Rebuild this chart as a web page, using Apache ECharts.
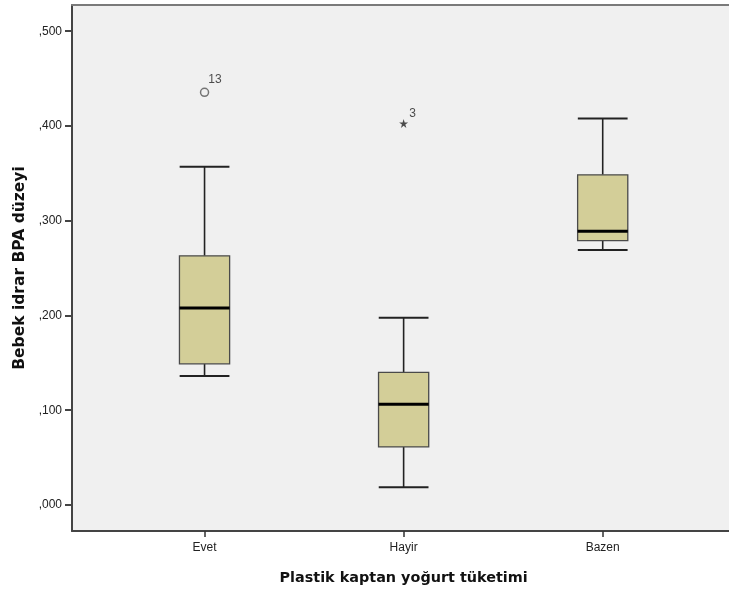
<!DOCTYPE html>
<html>
<head>
<meta charset="utf-8">
<script src="https://cdn.jsdelivr.net/npm/echarts@6/dist/echarts.min.js"></script>
<style>html,body{margin:0;padding:0;background:#fff}#c{width:729px;height:594px}</style>
</head>
<body>
<div id="c"></div>
<script>
var categories = ['Evet', 'Hayir', 'Bazen'];
var whiskerLow = [0.136, 0.0187, 0.269];
var q1 = [0.149, 0.0612, 0.279];
var median = [0.208, 0.1063, 0.289];
var q3 = [0.263, 0.140, 0.3485];
var whiskerHigh = [0.357, 0.1975, 0.408];
var outlierCats = ['Evet'];
var outlierValues = [0.4355];
var outlierLabels = ['13'];
var extremeCats = ['Hayir'];
var extremeValues = [0.4027];
var extremeLabels = ['3'];
var yTicks = [0, 0.1, 0.2, 0.3, 0.4, 0.5];
var yMin = -0.0275, yMax = 0.5277;

var boxData = categories.map(function (c, i) {
  return [i, whiskerLow[i], q1[i], median[i], q3[i], whiskerHigh[i]];
});

var starPath = 'path://M50,0 L61,35 L98,35 L68,57 L79,91 L50,70 L21,91 L32,57 L2,35 L39,35 Z';

function fmt(v) { return v.toFixed(3).replace(/^-?0\./, ','); }

var chart = echarts.init(document.getElementById('c'), null, {renderer: 'canvas'});
chart.setOption({
  animation: false,
  backgroundColor: '#ffffff',
  grid: [
    {left: 72, right: -10, top: 5, bottom: 63, show: true, backgroundColor: '#f0f0f0', borderWidth: 0},
    {left: 105, right: 26.75, top: 5, bottom: 63}
  ],
  xAxis: [
    {gridIndex: 0, type: 'value', min: 0, max: 1, position: 'bottom',
      axisLine: {show: true, onZero: false, lineStyle: {color: '#444', width: 2}},
      axisTick: {show: false}, axisLabel: {show: false}, splitLine: {show: false}},
    {gridIndex: 0, type: 'value', min: 0, max: 1, position: 'top',
      axisLine: {show: true, onZero: false, lineStyle: {color: '#7a7a7a', width: 2}},
      axisTick: {show: false}, axisLabel: {show: false}, splitLine: {show: false}},
    {gridIndex: 1, type: 'category', data: categories, boundaryGap: true, position: 'bottom',
      axisLine: {show: false, onZero: false},
      axisTick: {show: true, alignWithLabel: true, length: 6, lineStyle: {color: '#333', width: 1.5}},
      axisLabel: {margin: 11, color: '#222', fontSize: 12, fontFamily: 'Liberation Sans, Arial, sans-serif'},
      name: 'Plastik kaptan yoğurt tüketimi', nameLocation: 'middle', nameGap: 40,
      nameTextStyle: {fontWeight: 'bold', fontSize: 14.4, color: '#111', fontFamily: 'DejaVu Sans, sans-serif'},
      splitLine: {show: false}}
  ],
  yAxis: [
    {gridIndex: 0, type: 'value', min: yMin, max: yMax,
      axisLine: {show: true, onZero: false, lineStyle: {color: '#444', width: 2}},
      axisTick: {show: true, length: 7, customValues: yTicks, lineStyle: {color: '#444', width: 2}},
      axisLabel: {customValues: yTicks, formatter: fmt, margin: 10, color: '#222', fontSize: 12, fontFamily: 'Liberation Sans, Arial, sans-serif'},
      splitLine: {show: false},
      name: 'Bebek idrar BPA düzeyi', nameLocation: 'middle', nameGap: 44,
      nameTextStyle: {fontWeight: 'bold', fontSize: 15.5, color: '#111', fontFamily: 'DejaVu Sans, sans-serif'}},
    {gridIndex: 1, type: 'value', min: yMin, max: yMax, show: false, splitLine: {show: false}}
  ],
  series: [
    {
      type: 'custom', xAxisIndex: 2, yAxisIndex: 1,
      data: boxData,
      encode: {x: 0, y: [1, 2, 3, 4, 5]},
      renderItem: function (params, api) {
        var idx = api.value(0);
        var band = api.size([1, 0])[0];
        var bw = band * 0.252, cw = band * 0.125;
        var pLow = api.coord([idx, api.value(1)]);
        var pQ1 = api.coord([idx, api.value(2)]);
        var pMed = api.coord([idx, api.value(3)]);
        var pQ3 = api.coord([idx, api.value(4)]);
        var pHigh = api.coord([idx, api.value(5)]);
        var x = pMed[0];
        var ls = {stroke: '#222', lineWidth: 1.6};
        return {
          type: 'group',
          children: [
            {type: 'line', shape: {x1: x, y1: pHigh[1], x2: x, y2: pQ3[1]}, style: ls},
            {type: 'line', shape: {x1: x, y1: pQ1[1], x2: x, y2: pLow[1]}, style: ls},
            {type: 'line', shape: {x1: x - cw, y1: pHigh[1], x2: x + cw, y2: pHigh[1]}, style: {stroke: '#222', lineWidth: 2}},
            {type: 'line', shape: {x1: x - cw, y1: pLow[1], x2: x + cw, y2: pLow[1]}, style: {stroke: '#222', lineWidth: 2}},
            {type: 'rect', shape: {x: x - bw / 2, y: pQ3[1], width: bw, height: pQ1[1] - pQ3[1]},
              style: {fill: '#d3ce98', stroke: '#4a4a4a', lineWidth: 1.3}},
            {type: 'line', shape: {x1: x - bw / 2, y1: pMed[1], x2: x + bw / 2, y2: pMed[1]}, style: {stroke: '#000', lineWidth: 3}}
          ]
        };
      }
    },
    {
      type: 'scatter', xAxisIndex: 2, yAxisIndex: 1,
      data: outlierCats.map(function (c, i) { return {value: [c, outlierValues[i]], name: outlierLabels[i]}; }),
      symbol: 'circle', symbolSize: 8,
      itemStyle: {color: '#f0f0f0', borderColor: '#555', borderWidth: 1.5},
      label: {show: true, formatter: '{b}', position: 'right', distance: 0, offset: [-1, -13], color: '#222', fontSize: 12, fontFamily: 'Liberation Sans, Arial, sans-serif'}
    },
    {
      type: 'scatter', xAxisIndex: 2, yAxisIndex: 1,
      data: extremeCats.map(function (c, i) { return {value: [c, extremeValues[i]], name: extremeLabels[i]}; }),
      symbol: starPath, symbolSize: 9,
      itemStyle: {color: '#222'},
      label: {show: true, formatter: '{b}', position: 'right', distance: 1, offset: [0, -10], color: '#222', fontSize: 12, fontFamily: 'Liberation Sans, Arial, sans-serif'}
    }
  ]
});
</script>
</body>
</html>
